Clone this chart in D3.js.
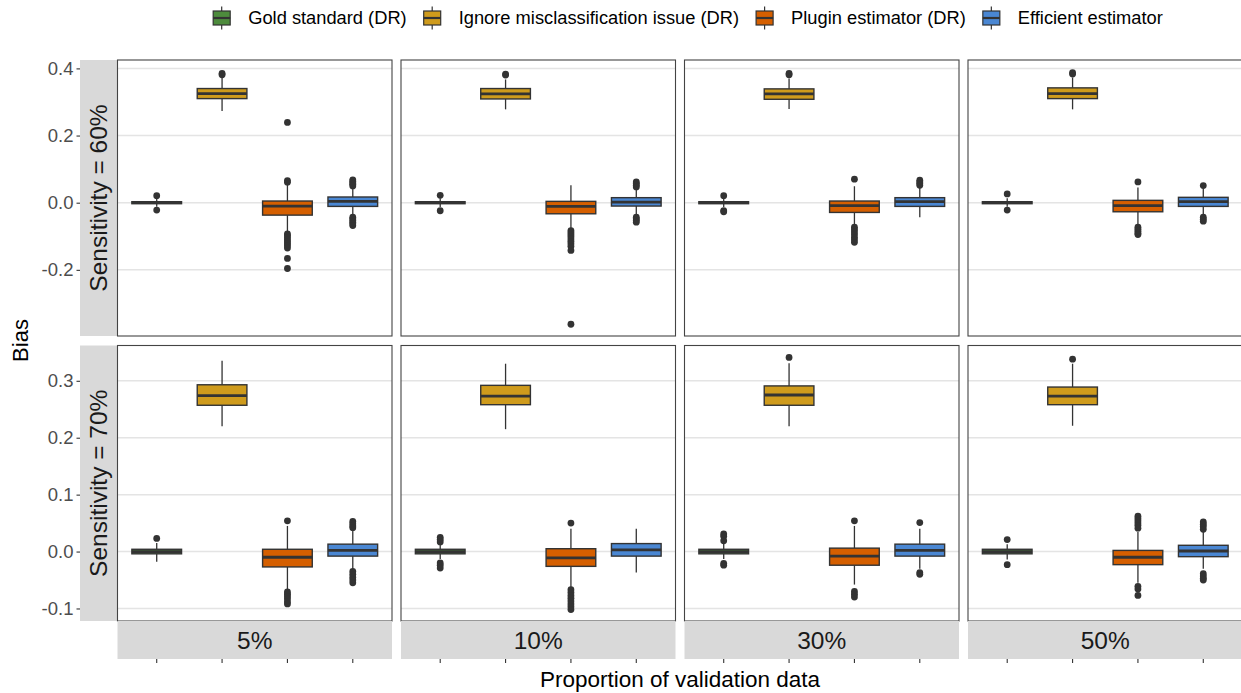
<!DOCTYPE html>
<html>
<head>
<meta charset="utf-8">
<script src="https://cdn.jsdelivr.net/npm/d3@7"></script>
<style>
  body { margin: 0; background: #fff; }
  svg { display: block; font-family: "Liberation Sans", Arial, Helvetica, sans-serif; }
</style>
</head>
<body>
<svg id="chart"></svg>
<script>
// facet labels and methods
var proportions = ["5%", "10%", "30%", "50%"];
var sensitivities = ["Sensitivity = 60%", "Sensitivity = 70%"];
var methods = ["Gold standard (DR)", "Ignore misclassification issue (DR)", "Plugin estimator (DR)", "Efficient estimator"];
var methodColors = ["#4d8b3c", "#cf9b1c", "#d55f00", "#4a87d3"];

var yTicksTop = [-0.2, 0.0, 0.2, 0.4];
var yTicksBottom = [-0.1, 0.0, 0.1, 0.2, 0.3];

// box stats per panel: [lower whisker, q1, median, q3, upper whisker]
// panel order: 60% x (5,10,30,50), then 70% x (5,10,30,50)
var goldStats = [
  [-0.012, -0.003, 0.000, 0.003, 0.012],
  [-0.013, -0.003, 0.000, 0.003, 0.013],
  [-0.013, -0.003, 0.000, 0.003, 0.013],
  [-0.012, -0.003, 0.000, 0.003, 0.013],
  [-0.018, -0.004, 0.000, 0.004, 0.015],
  [-0.013, -0.004, 0.000, 0.004, 0.012],
  [-0.013, -0.004, 0.000, 0.004, 0.014],
  [-0.014, -0.004, 0.000, 0.004, 0.013]
];
var goldOutliers = [
  [0.021, -0.022],
  [0.022, -0.024],
  [0.021, -0.024, -0.027],
  [0.026, -0.022],
  [0.023],
  [0.025, 0.021, 0.017, -0.020, -0.024, -0.029],
  [0.031, 0.027, 0.019, -0.021, -0.024],
  [0.021, -0.023]
];

var ignoreStats = [
  [0.273, 0.310, 0.325, 0.340, 0.375],
  [0.278, 0.309, 0.324, 0.340, 0.367],
  [0.279, 0.308, 0.324, 0.339, 0.370],
  [0.278, 0.310, 0.325, 0.342, 0.373],
  [0.220, 0.257, 0.274, 0.293, 0.335],
  [0.215, 0.258, 0.273, 0.292, 0.330],
  [0.220, 0.257, 0.275, 0.291, 0.331],
  [0.221, 0.258, 0.273, 0.289, 0.330]
];
var ignoreOutliers = [
  [0.385, 0.381],
  [0.383, 0.380],
  [0.385, 0.381],
  [0.387, 0.383],
  [],
  [],
  [0.341],
  [0.338]
];

var pluginStats = [
  [-0.088, -0.037, -0.010, 0.005, 0.057],
  [-0.078, -0.033, -0.011, 0.004, 0.052],
  [-0.068, -0.029, -0.009, 0.005, 0.049],
  [-0.068, -0.027, -0.009, 0.007, 0.045],
  [-0.068, -0.027, -0.010, 0.004, 0.045],
  [-0.064, -0.026, -0.011, 0.005, 0.040],
  [-0.058, -0.024, -0.008, 0.006, 0.045],
  [-0.055, -0.023, -0.010, 0.002, 0.035]
];
var pluginOutliers = [
  [0.239, 0.066, 0.061, -0.093, -0.098, -0.104, -0.110, -0.116, -0.122, -0.128, -0.135, -0.166, -0.196],
  [-0.083, -0.089, -0.095, -0.101, -0.108, -0.115, -0.122, -0.130, -0.142, -0.362],
  [0.070, -0.073, -0.080, -0.087, -0.095, -0.103, -0.110, -0.118],
  [0.062, -0.073, -0.079, -0.085, -0.091, -0.095],
  [0.054, -0.071, -0.075, -0.079, -0.083, -0.088, -0.092],
  [0.050, -0.067, -0.072, -0.077, -0.082, -0.087, -0.092, -0.097, -0.102],
  [0.054, -0.070, -0.075, -0.080],
  [0.062, 0.058, 0.054, 0.050, 0.046, 0.041, -0.061, -0.066, -0.077]
];

var efficientStats = [
  [-0.040, -0.011, 0.004, 0.017, 0.045],
  [-0.035, -0.010, 0.002, 0.015, 0.040],
  [-0.043, -0.011, 0.003, 0.015, 0.045],
  [-0.035, -0.011, 0.003, 0.016, 0.042],
  [-0.030, -0.008, 0.002, 0.013, 0.038],
  [-0.037, -0.008, 0.003, 0.014, 0.040],
  [-0.030, -0.008, 0.002, 0.013, 0.040],
  [-0.030, -0.009, 0.001, 0.011, 0.035]
];
var efficientOutliers = [
  [0.068, 0.064, 0.059, 0.055, 0.050, -0.043, -0.048, -0.053, -0.058, -0.063, -0.068],
  [0.062, 0.057, 0.052, 0.047, -0.043, -0.048, -0.053, -0.058],
  [0.067, 0.062, 0.057, 0.052],
  [0.051, -0.043, -0.049, -0.055],
  [0.053, 0.049, 0.045, 0.042, -0.035, -0.040, -0.045, -0.050, -0.055],
  [],
  [0.051, -0.037, -0.040],
  [0.052, 0.048, 0.044, 0.039, -0.039, -0.043, -0.047, -0.050]
];

var allStats = [goldStats, ignoreStats, pluginStats, efficientStats];
var allOutliers = [goldOutliers, ignoreOutliers, pluginOutliers, efficientOutliers];

// basic settings
var width = 1241, height = 693;
var x0 = 117.5, panelW = 274.5, gapX = 9;
var rowTop = [60, 345.5], panelH = [276, 275.5];
var stripW = 37.5, colStripH = 38;
var yDomains = [[-0.397, 0.425], [-0.122, 0.362]];
var yTicks = [yTicksTop, yTicksBottom];

var svg = d3.select("#chart").attr("width", width).attr("height", height);

var xScale = d3.scalePoint().domain(methods).range([0, panelW]).padding(0.6);
var boxW = xScale.step() * 0.76;
var color = d3.scaleOrdinal().domain(methods).range(methodColors);

sensitivities.forEach(function(sens, r) {
  var y = d3.scaleLinear().domain(yDomains[r]).range([rowTop[r] + panelH[r], rowTop[r]]);

  // row strip on the left
  svg.append("rect")
    .attr("x", x0 - stripW).attr("y", rowTop[r])
    .attr("width", stripW).attr("height", panelH[r])
    .attr("fill", "#d9d9d9");
  svg.append("text")
    .attr("transform", "translate(" + (x0 - stripW / 2 + 8.5) + "," + (rowTop[r] + panelH[r] / 2) + ") rotate(-90)")
    .attr("text-anchor", "middle")
    .attr("font-size", 24.5)
    .attr("fill", "#1a1a1a")
    .text(sens);

  // y axis
  var yAxis = svg.append("g")
    .attr("transform", "translate(" + (x0 - stripW) + ",0)")
    .call(d3.axisLeft(y).tickValues(yTicks[r]).tickFormat(d3.format(".1f")).tickSize(3.5).tickPadding(3));
  yAxis.select(".domain").remove();
  yAxis.selectAll(".tick line").attr("stroke", "#333").attr("stroke-width", 1.1);
  yAxis.selectAll(".tick text")
    .attr("font-size", 18.5)
    .attr("fill", "#4d4d4d")
    .attr("font-family", "Liberation Sans, Arial, sans-serif")
    .text(function(d) { return d3.format(".1f")(d).replace("\u2212", "-"); });

  proportions.forEach(function(prop, c) {
    var idx = r * 4 + c;
    var px = x0 + c * (panelW + gapX);
    var g = svg.append("g").attr("transform", "translate(" + px + ",0)");

    g.append("rect")
      .attr("x", 0).attr("y", rowTop[r])
      .attr("width", panelW).attr("height", panelH[r])
      .attr("fill", "#fff");

    g.selectAll(".grid")
      .data(yTicks[r])
      .enter().append("line")
      .attr("x1", 0).attr("x2", panelW)
      .attr("y1", function(d) { return y(d); })
      .attr("y2", function(d) { return y(d); })
      .attr("stroke", "#e4e4e4").attr("stroke-width", 1.5);

    methods.forEach(function(m, k) {
      var s = allStats[k][idx];
      var cx = xScale(m);
      var bg = g.append("g");
      // whiskers
      bg.append("line")
        .attr("x1", cx).attr("x2", cx)
        .attr("y1", y(s[0])).attr("y2", y(s[1]))
        .attr("stroke", "#333").attr("stroke-width", 1.3);
      bg.append("line")
        .attr("x1", cx).attr("x2", cx)
        .attr("y1", y(s[3])).attr("y2", y(s[4]))
        .attr("stroke", "#333").attr("stroke-width", 1.3);
      // box
      bg.append("rect")
        .attr("x", cx - boxW / 2).attr("y", y(s[3]))
        .attr("width", boxW).attr("height", y(s[1]) - y(s[3]))
        .attr("fill", color(m))
        .attr("stroke", "#333").attr("stroke-width", 1.4);
      // median
      bg.append("line")
        .attr("x1", cx - boxW / 2).attr("x2", cx + boxW / 2)
        .attr("y1", y(s[2])).attr("y2", y(s[2]))
        .attr("stroke", "#333").attr("stroke-width", 2.8);
      // outliers
      bg.selectAll("circle")
        .data(allOutliers[k][idx])
        .enter().append("circle")
        .attr("cx", cx).attr("cy", function(d) { return y(d); })
        .attr("r", 3.4)
        .attr("fill", "#333");
    });

    g.append("rect")
      .attr("x", 0).attr("y", rowTop[r])
      .attr("width", panelW).attr("height", panelH[r])
      .attr("fill", "none")
      .attr("stroke", "#444").attr("stroke-width", 1.1);

    // column strip below bottom row
    if (r === 1) {
      var sy = rowTop[1] + panelH[1];
      g.append("rect")
        .attr("x", 0).attr("y", sy)
        .attr("width", panelW).attr("height", colStripH)
        .attr("fill", "#d9d9d9");
      g.append("text")
        .attr("x", panelW / 2).attr("y", sy + colStripH / 2 + 9)
        .attr("text-anchor", "middle")
        .attr("font-size", 24.5)
        .attr("fill", "#1a1a1a")
        .text(prop);
      g.selectAll(".xtick")
        .data(methods)
        .enter().append("line")
        .attr("x1", function(d) { return xScale(d); })
        .attr("x2", function(d) { return xScale(d); })
        .attr("y1", sy + colStripH).attr("y2", sy + colStripH + 4)
        .attr("stroke", "#333").attr("stroke-width", 1.1);
    }
  });
});

// axis titles
svg.append("text")
  .attr("transform", "translate(28," + (rowTop[0] + (rowTop[1] + panelH[1] - rowTop[0]) / 2) + ") rotate(-90)")
  .attr("text-anchor", "middle")
  .attr("font-size", 22)
  .attr("fill", "#000")
  .text("Bias");

svg.append("text")
  .attr("x", x0 + (4 * panelW + 3 * gapX) / 2)
  .attr("y", 687)
  .attr("text-anchor", "middle")
  .attr("font-size", 22.5)
  .attr("fill", "#000")
  .text("Proportion of validation data");

// legend
var legend = svg.append("g").attr("class", "legend");
var cursor = 0;
var keyW = 17, keyH = 14, textOff = 35, itemGap = 17, ly = 18;
methods.forEach(function(m, i) {
  var item = legend.append("g").attr("transform", "translate(" + cursor + ",0)");
  item.append("line")
    .attr("x1", keyW / 2).attr("x2", keyW / 2)
    .attr("y1", ly - 11.5).attr("y2", ly + 11.5)
    .attr("stroke", "#333").attr("stroke-width", 1.2);
  item.append("rect")
    .attr("x", 0).attr("y", ly - keyH / 2)
    .attr("width", keyW).attr("height", keyH)
    .attr("fill", color(m))
    .attr("stroke", "#333").attr("stroke-width", 1.2);
  item.append("line")
    .attr("x1", 0).attr("x2", keyW)
    .attr("y1", ly).attr("y2", ly)
    .attr("stroke", "#333").attr("stroke-width", 2.2);
  var t = item.append("text")
    .attr("x", textOff).attr("y", ly + 6)
    .attr("font-size", 18.3)
    .attr("fill", "#000")
    .text(m);
  cursor += textOff + t.node().getComputedTextLength() + itemGap;
});
var legendW = cursor - itemGap;
legend.attr("transform", "translate(" + (688 - legendW / 2) + ",0)");
</script>
</body>
</html>
